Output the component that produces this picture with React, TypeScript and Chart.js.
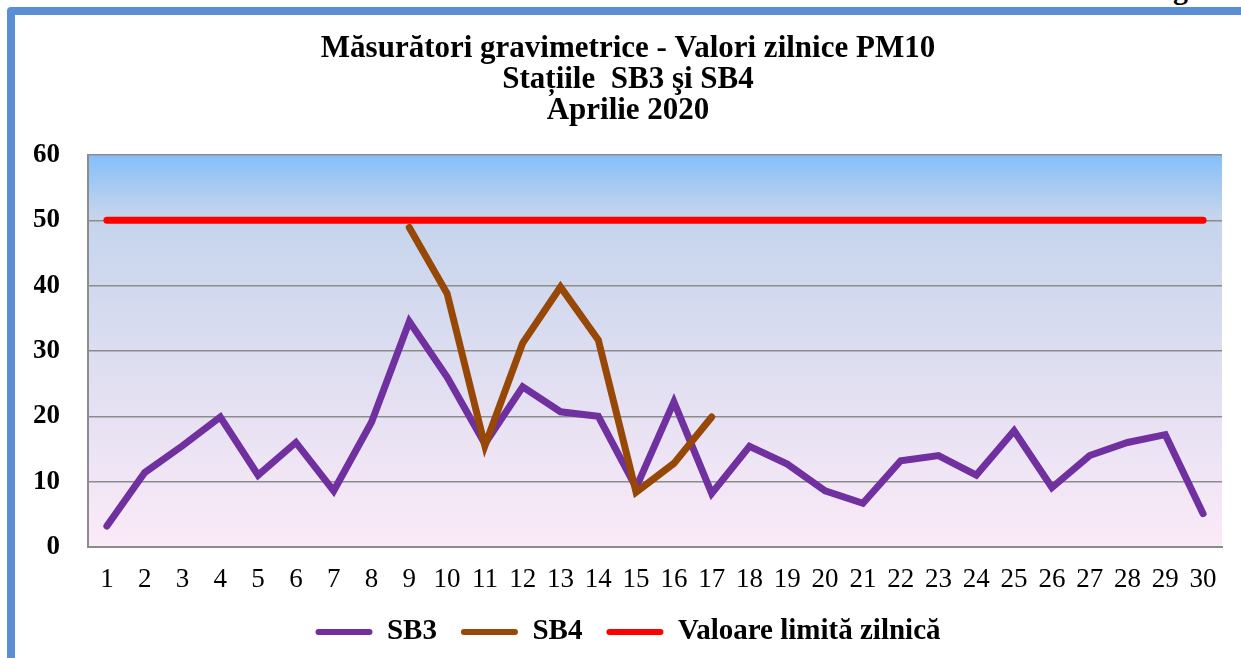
import React, { useEffect, useRef } from "react";
import { Chart, registerables } from "chart.js";

Chart.register(...registerables);

const days = ["1", "2", "3", "4", "5", "6", "7", "8", "9", "10", "11", "12", "13", "14", "15", "16", "17", "18", "19", "20", "21", "22", "23", "24", "25", "26", "27", "28", "29", "30"];
const sb3 = [3.2, 11.4, 15.5, 19.9, 11.0, 16.0, 8.6, 19.1, 34.5, 26.0, 15.8, 24.5, 20.7, 20.0, 9.1, 22.2, 8.2, 15.4, 12.7, 8.6, 6.7, 13.2, 14.0, 11.0, 17.8, 9.1, 14.0, 16.0, 17.2, 5.1];
const sb4 = [null, null, null, null, null, null, null, null, 48.9, 38.8, 15.5, 31.2, 39.8, 31.7, 8.4, 12.8, 19.9, null, null, null, null, null, null, null, null, null, null, null, null, null];
const limit = [50, 50, 50, 50, 50, 50, 50, 50, 50, 50, 50, 50, 50, 50, 50, 50, 50, 50, 50, 50, 50, 50, 50, 50, 50, 50, 50, 50, 50, 50];
const titleLines = ["Măsurători gravimetrice - Valori zilnice PM10", "Stațiile  SB3 şi SB4", "Aprilie 2020"];
const seriesNames = ["SB3", "SB4", "Valoare limită zilnică"];
const seriesColors = ["#7030A0", "#974706", "#FF0000"];

const FONT = "'Liberation Serif', 'Times New Roman', serif";

const plotBg = {
  id: "plotBg",
  beforeDraw(chart: any) {
    const { ctx, chartArea: a } = chart;
    if (!a) return;
    const g = ctx.createLinearGradient(0, a.top, 0, a.bottom);
    g.addColorStop(0, "#84BFF9");
    g.addColorStop(0.15, "#C4D4EC");
    g.addColorStop(0.5, "#DCDDF0");
    g.addColorStop(1, "#FBEAF8");
    ctx.save();
    ctx.fillStyle = g;
    ctx.fillRect(a.left, a.top, a.right - a.left, a.bottom - a.top);
    ctx.restore();
  },
};

export default function App() {
  const ref = useRef<HTMLCanvasElement | null>(null);

  useEffect(() => {
    if (!ref.current) return;
    const chart = new Chart(ref.current, {
      type: "line",
      data: {
        labels: days,
        datasets: [
          {
            label: seriesNames[0],
            data: sb3,
            borderColor: seriesColors[0],
            backgroundColor: seriesColors[0],
            borderWidth: 7,
            pointRadius: 0,
            tension: 0,
            borderCapStyle: "round",
            borderJoinStyle: "miter",
            order: 3,
          },
          {
            label: seriesNames[1],
            data: sb4,
            borderColor: seriesColors[1],
            backgroundColor: seriesColors[1],
            borderWidth: 7,
            pointRadius: 0,
            tension: 0,
            spanGaps: false,
            borderCapStyle: "round",
            borderJoinStyle: "miter",
            order: 2,
          },
          {
            label: seriesNames[2],
            data: limit,
            borderColor: seriesColors[2],
            backgroundColor: seriesColors[2],
            borderWidth: 7,
            pointRadius: 0,
            tension: 0,
            borderCapStyle: "round",
            order: 1,
          },
        ],
      },
      options: {
        responsive: false,
        animation: false,
        devicePixelRatio: 1,
        layout: { padding: { left: 34, right: 19, top: 0, bottom: 11.5 } },
        plugins: {
          tooltip: { enabled: false },
          title: {
            display: true,
            text: titleLines,
            color: "#000",
            font: { family: FONT, size: 31, weight: "bold", lineHeight: 1.0 },
            padding: { top: 33, bottom: 29 },
          },
          legend: {
            display: true,
            position: "bottom",
            labels: {
              color: "#000",
              font: { family: FONT, size: 29, weight: "bold" },
              boxWidth: 57,
              boxHeight: 6,
              padding: 24,
              useBorderRadius: true,
              borderRadius: 3,
              generateLabels: (c: any) =>
                c.data.datasets.map((ds: any, i: number) => ({
                  text: ds.label,
                  fillStyle: ds.borderColor,
                  strokeStyle: ds.borderColor,
                  lineWidth: 0,
                  hidden: false,
                  datasetIndex: i,
                  borderRadius: 3,
                  fontColor: "#000",
                })),
            },
          },
        },
        scales: {
          x: {
            offset: true,
            afterFit: (s: any) => {
              s.height = 46.5;
            },
            grid: { display: false, drawTicks: false },
            border: { display: true, color: "#8C8C8C", width: 2 },
            ticks: {
              color: "#000",
              font: { family: FONT, size: 27 },
              padding: 17,
              autoSkip: false,
              maxRotation: 0,
              minRotation: 0,
            },
          },
          y: {
            min: 0,
            max: 60,
            afterFit: (s: any) => {
              s.width = 54;
            },
            grid: { color: "#8C8C8C", lineWidth: 1.5, drawTicks: false },
            border: { display: true, color: "#8C8C8C", width: 2 },
            ticks: {
              stepSize: 10,
              color: "#000",
              font: { family: FONT, size: 27, weight: "bold" },
              padding: 28,
            },
          },
        },
      },
      plugins: [plotBg],
    } as any);
    return () => chart.destroy();
  }, []);

  return (
    <div
      style={{
        position: "fixed",
        left: 0,
        top: 0,
        width: 1241,
        height: 658,
        overflow: "hidden",
        background: "#fff",
      }}
    >
      <div
        style={{
          position: "absolute",
          left: 7,
          top: 7,
          width: 1300,
          height: 700,
          border: "8px solid #5B8FD5",
          borderRadius: 4,
          boxSizing: "border-box",
        }}
      />
      <div
        style={{
          position: "absolute",
          left: 1173,
          top: -26,
          fontFamily: FONT,
          fontSize: 30,
          fontWeight: "bold",
          lineHeight: 1,
          color: "#000",
        }}
      >
        g
      </div>
      <canvas
        ref={ref}
        width={1241}
        height={668}
        style={{ position: "absolute", left: 0, top: 0, width: 1241, height: 668 }}
      />
    </div>
  );
}
